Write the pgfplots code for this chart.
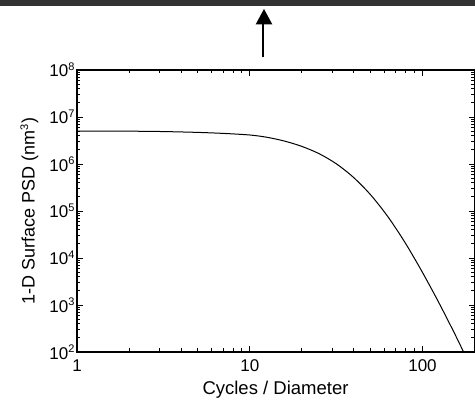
\documentclass[border=0pt]{standalone}
\usepackage{fontspec}
\setmainfont{Liberation Sans}
\usepackage{pgfplots}
\pgfplotsset{compat=1.18}
\newcommand\ex[1]{\raisebox{6.5pt}{\fontsize{11}{11}\selectfont #1}}
\begin{document}
\begin{tikzpicture}[x=1pt,y=1pt]
\useasboundingbox (0,0) rectangle (475,401);
\fill[black!80] (0,395) rectangle (475,401);
\draw[line width=2pt] (263.3,343.7) -- (263.3,378);
\fill (255.7,376.7) -- (272.3,376.7) -- (264,392) -- cycle;
\begin{axis}[
  at={(77pt,49pt)}, anchor=south west,
  width=397.5pt, height=282pt, scale only axis,
  xmode=log, ymode=log,
  xmin=1, xmax=200, ymin=1e2, ymax=1e8,
  axis line style={line width=1.3pt},
  major tick length=6pt, minor tick length=3.5pt,
  every tick/.style={black, line width=0.9pt},
  xtick={1,10,100}, xticklabels={1,10,100},
  ytick={1e2,1e3,1e4,1e5,1e6,1e7,1e8},
  yticklabels={10\ex{2},10\ex{3},10\ex{4},10\ex{5},10\ex{6},10\ex{7},10\ex{8}},
  tick label style={font=\fontsize{17}{17}\selectfont},
  xticklabel style={yshift=-4pt},
  yticklabel style={xshift=1pt},
]
\addplot[black, line width=1pt, smooth] coordinates {
(1,5.03e6) (2,4.99e6) (3.16,4.90e6) (5.01,4.70e6) (7.08,4.47e6)
(10,4.14e6) (12.59,3.70e6) (15.85,3.08e6) (19.95,2.38e6)
(25.12,1.667e6) (31.62,1.016e6) (39.81,5.21e5) (50.12,2.20e5)
(63.10,7.53e4) (79.43,2.10e4) (100,4.92e3) (125.9,1.028e3)
(158.5,193.6) (199.5,33.3)
};
\end{axis}
\node[anchor=base, font=\fontsize{18.5}{18.5}\selectfont] at (275.5,6) {Cycles / Diameter};
\node[anchor=base, rotate=90, font=\fontsize{18}{18}\selectfont] at (34.5,190) {1-D Surface PSD (nm\ex{3})};
\end{tikzpicture}
\end{document}
